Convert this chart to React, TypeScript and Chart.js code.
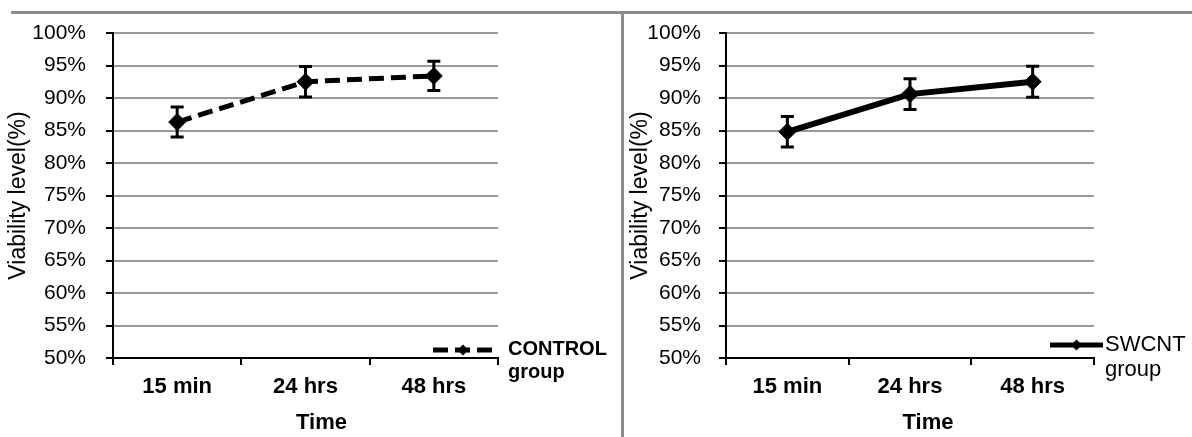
import React, { useEffect, useRef } from 'react';
import { Chart, registerables } from 'chart.js';

Chart.register(...registerables);

// ---- data ----
const categories = ['15 min', '24 hrs', '48 hrs'];
const controlValues = [86.3, 92.5, 93.4];
const controlErrors = [2.3, 2.35, 2.25];
const swcntValues = [84.8, 90.6, 92.5];
const swcntErrors = [2.35, 2.35, 2.4];
const yMin = 50;
const yMax = 100;
const yStep = 5;
const yTitle = 'Viability level(%)';
const xTitle = 'Time';
const controlLegend = ['CONTROL', 'group'];
const swcntLegend = ['SWCNT', 'group'];

const FONT = "'Liberation Sans', Arial, Helvetica, sans-serif";

type PanelCfg = {
  values: number[];
  errors: number[];
  dash: number[];
  lineWidth: number;
  legend: string[];
  legendFont: string;
  yWidth: number;
  padRight: number;
  yTickPad: number;
  yTitlePad: number;
  legendX0: number;
  legendX1: number;
  legendY: number;
  legendTextX: number;
  legendTextY0: number;
  legendTextY1: number;
  titleDx: number;
};

function makeChart(canvas: HTMLCanvasElement, c: PanelCfg) {
  const overlay = {
    id: 'overlay',
    afterDatasetsDraw(chart: any) {
      const ctx = chart.ctx;
      const y = chart.scales.y;
      const meta = chart.getDatasetMeta(0);
      ctx.save();
      ctx.strokeStyle = '#000';
      ctx.lineWidth = 3;
      ctx.setLineDash([]);
      meta.data.forEach((pt: any, i: number) => {
        const v = c.values[i];
        const top = y.getPixelForValue(v + c.errors[i]);
        const bot = y.getPixelForValue(v - c.errors[i]);
        const x = pt.x;
        ctx.beginPath();
        ctx.moveTo(x, top);
        ctx.lineTo(x, bot);
        ctx.moveTo(x - 6.5, top);
        ctx.lineTo(x + 6.5, top);
        ctx.moveTo(x - 6.5, bot);
        ctx.lineTo(x + 6.5, bot);
        ctx.stroke();
      });
      ctx.restore();
    },
    afterDraw(chart: any) {
      const ctx = chart.ctx;
      const ca = chart.chartArea;
      ctx.save();
      // legend sample
      ctx.strokeStyle = '#000';
      ctx.fillStyle = '#000';
      ctx.lineWidth = 5;
      ctx.lineCap = 'butt';
      ctx.setLineDash(c.dash);
      ctx.beginPath();
      ctx.moveTo(ca.right + c.legendX0, c.legendY);
      ctx.lineTo(ca.right + c.legendX1, c.legendY);
      ctx.stroke();
      ctx.setLineDash([]);
      const cx = ca.right + (c.legendX0 + c.legendX1) / 2;
      const r = 5.5;
      ctx.beginPath();
      ctx.moveTo(cx, c.legendY - r);
      ctx.lineTo(cx + r, c.legendY);
      ctx.lineTo(cx, c.legendY + r);
      ctx.lineTo(cx - r, c.legendY);
      ctx.closePath();
      ctx.fill();
      // legend text
      ctx.font = c.legendFont;
      ctx.textAlign = 'left';
      ctx.textBaseline = 'middle';
      ctx.fillText(c.legend[0], ca.right + c.legendTextX, c.legendTextY0);
      ctx.fillText(c.legend[1], ca.right + c.legendTextX, c.legendTextY1);
      // x axis title
      ctx.font = `bold 22px ${FONT}`;
      ctx.textAlign = 'center';
      ctx.fillText(xTitle, (ca.left + ca.right) / 2 + c.titleDx, 423);
      ctx.restore();
    },
  };

  return new Chart(canvas, {
    type: 'line',
    data: {
      labels: categories,
      datasets: [
        {
          data: c.values,
          borderColor: '#000',
          backgroundColor: '#000',
          borderWidth: c.lineWidth,
          borderDash: c.dash,
          borderCapStyle: 'butt',
          pointStyle: 'rectRot',
          pointRadius: 8.5,
          pointBorderWidth: 1,
          pointBackgroundColor: '#000',
          pointBorderColor: '#000',
          tension: 0,
          fill: false,
        } as any,
      ],
    },
    options: {
      animation: false,
      responsive: false,
      maintainAspectRatio: false,
      devicePixelRatio: 1,
      layout: { padding: { left: 0, right: c.padRight, top: 33, bottom: 0 } },
      plugins: { legend: { display: false }, tooltip: { enabled: false } },
      scales: {
        x: {
          type: 'category',
          offset: true,
          grid: {
            display: true,
            offset: true,
            drawOnChartArea: false,
            drawTicks: true,
            tickLength: 7,
            tickColor: '#000',
            color: '#000',
            lineWidth: 2,
          },
          border: { display: true, color: '#000', width: 2 },
          ticks: {
            color: '#000',
            font: { family: FONT, size: 22, weight: 'bold' },
            padding: 9,
            maxRotation: 0,
            autoSkip: false,
          },
          afterFit: (s: any) => {
            s.height = 79;
          },
        },
        y: {
          min: yMin,
          max: yMax,
          ticks: {
            stepSize: yStep,
            callback: (v: any) => `${v}%`,
            color: '#000',
            font: { family: FONT, size: 21 },
            padding: c.yTickPad,
          },
          grid: {
            color: (ctx: any) => (ctx.tick && ctx.tick.value === yMin ? '#000' : '#999'),
            lineWidth: 2,
            tickColor: '#000',
            tickLength: 7,
            drawTicks: true,
          },
          border: { display: true, color: '#000', width: 2 },
          title: {
            display: true,
            text: yTitle,
            color: '#000',
            font: { family: FONT, size: 23 },
            padding: { top: c.yTitlePad, bottom: 0 },
          },
          afterFit: (s: any) => {
            s.width = c.yWidth;
          },
        },
      },
    } as any,
    plugins: [overlay],
  });
}

export default function App() {
  const leftRef = useRef<HTMLCanvasElement>(null);
  const rightRef = useRef<HTMLCanvasElement>(null);

  useEffect(() => {
    const a = makeChart(leftRef.current!, {
      values: controlValues,
      errors: controlErrors,
      dash: [15, 7],
      lineWidth: 5,
      legend: controlLegend,
      legendFont: `bold 20px ${FONT}`,
      yWidth: 113,
      padRight: 120,
      yTickPad: 20,
      yTitlePad: 5,
      legendX0: -65,
      legendX1: -5,
      legendY: 350,
      legendTextX: 10,
      legendTextY0: 349,
      legendTextY1: 372,
      titleDx: 16,
    });
    const b = makeChart(rightRef.current!, {
      values: swcntValues,
      errors: swcntErrors,
      dash: [],
      lineWidth: 6,
      legend: swcntLegend,
      legendFont: `22px ${FONT}`,
      yWidth: 102,
      padRight: 98,
      yTickPad: 18,
      yTitlePad: 3,
      legendX0: -44,
      legendX1: 9,
      legendY: 345,
      legendTextX: 11,
      legendTextY0: 345,
      legendTextY1: 370,
      titleDx: 18,
    });
    return () => {
      a.destroy();
      b.destroy();
    };
  }, []);

  return (
    <div
      style={{
        position: 'absolute',
        left: 0,
        top: 0,
        width: 1192,
        height: 437,
        background: '#fff',
        overflow: 'hidden',
      }}
    >
      <canvas
        ref={leftRef}
        width={618}
        height={437}
        style={{ position: 'absolute', left: 0, top: 0, width: 618, height: 437 }}
      />
      <canvas
        ref={rightRef}
        width={568}
        height={437}
        style={{ position: 'absolute', left: 624, top: 0, width: 568, height: 437 }}
      />
      <div style={{ position: 'absolute', left: 11, top: 11, width: 1181, height: 3, background: '#8c8c8c' }} />
      <div style={{ position: 'absolute', left: 621, top: 12, width: 3, height: 425, background: '#8c8c8c' }} />
    </div>
  );
}
